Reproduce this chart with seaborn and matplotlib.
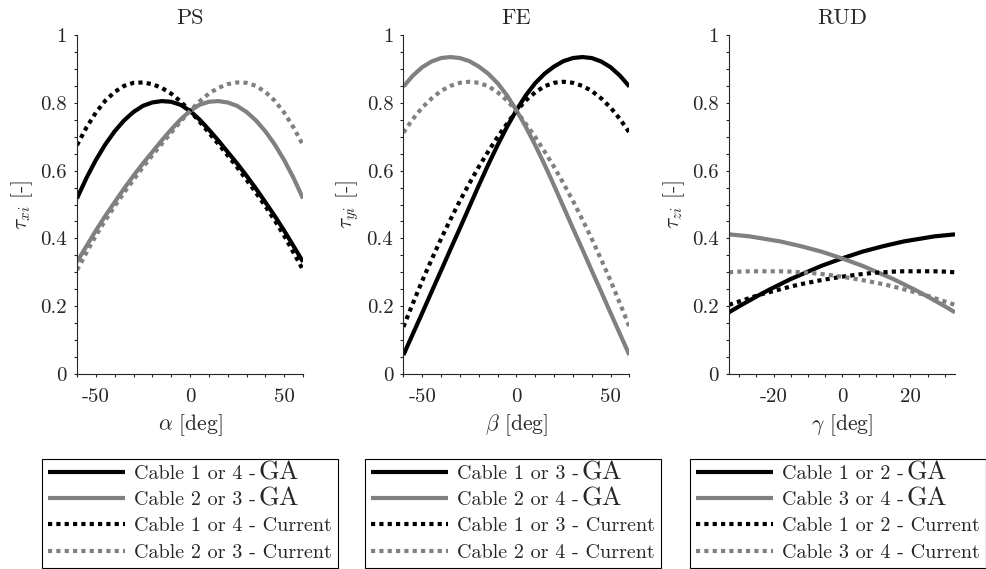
import numpy as np
import matplotlib
matplotlib.use("Agg")
import matplotlib.pyplot as plt
import seaborn as sns

# sampled angles [deg]
x_ps = [-60, -55, -50, -45, -40, -35, -30, -25, -20, -15, -10, -5, 0,
        5, 10, 15, 20, 25, 30, 35, 40, 45, 50, 55, 60]
x_fe = x_ps
x_rud = [-33, -30, -27, -24, -21, -18, -15, -12, -9, -6, -3, 0,
         3, 6, 9, 12, 15, 18, 21, 24, 27, 30, 33]

# PS
ps_ga_a = [0.518, 0.578, 0.631, 0.677, 0.716, 0.748, 0.773, 0.791, 0.801, 0.805, 0.803, 0.794, 0.776,
           0.751, 0.721, 0.689, 0.655, 0.621, 0.585, 0.547, 0.507, 0.466, 0.423, 0.377, 0.331]
ps_ga_b = [0.331, 0.377, 0.423, 0.466, 0.507, 0.547, 0.585, 0.621, 0.655, 0.689, 0.721, 0.751, 0.776,
           0.794, 0.803, 0.805, 0.801, 0.791, 0.773, 0.748, 0.716, 0.677, 0.631, 0.578, 0.518]
ps_cur_a = [0.675, 0.727, 0.771, 0.806, 0.832, 0.850, 0.859, 0.860, 0.855, 0.844, 0.827, 0.804, 0.776,
            0.745, 0.712, 0.679, 0.645, 0.610, 0.573, 0.535, 0.495, 0.453, 0.408, 0.358, 0.307]
ps_cur_b = [0.307, 0.358, 0.408, 0.453, 0.495, 0.535, 0.573, 0.610, 0.645, 0.679, 0.712, 0.745, 0.776,
            0.804, 0.827, 0.844, 0.855, 0.860, 0.859, 0.850, 0.832, 0.806, 0.771, 0.727, 0.675]

# FE
fe_ga_a = [0.056, 0.118, 0.180, 0.243, 0.305, 0.368, 0.430, 0.493, 0.556, 0.617, 0.675, 0.729, 0.778,
           0.822, 0.858, 0.886, 0.907, 0.923, 0.932, 0.935, 0.932, 0.922, 0.905, 0.880, 0.848]
fe_ga_b = [0.848, 0.880, 0.905, 0.922, 0.932, 0.935, 0.932, 0.923, 0.907, 0.886, 0.858, 0.822, 0.778,
           0.729, 0.675, 0.617, 0.556, 0.493, 0.430, 0.368, 0.305, 0.243, 0.180, 0.118, 0.056]
fe_cur_a = [0.139, 0.208, 0.275, 0.338, 0.399, 0.456, 0.511, 0.562, 0.611, 0.656, 0.699, 0.738, 0.776,
            0.807, 0.831, 0.849, 0.859, 0.862, 0.859, 0.850, 0.835, 0.813, 0.786, 0.752, 0.712]
fe_cur_b = [0.712, 0.752, 0.786, 0.813, 0.835, 0.850, 0.859, 0.862, 0.859, 0.849, 0.831, 0.807, 0.776,
            0.738, 0.699, 0.656, 0.611, 0.562, 0.511, 0.456, 0.399, 0.338, 0.275, 0.208, 0.139]

# RUD
rud_ga_a = [0.182, 0.200, 0.217, 0.234, 0.250, 0.265, 0.280, 0.293, 0.306, 0.319, 0.330, 0.341,
            0.351, 0.361, 0.369, 0.377, 0.384, 0.391, 0.396, 0.401, 0.406, 0.409, 0.412]
rud_ga_b = [0.412, 0.409, 0.406, 0.401, 0.396, 0.391, 0.384, 0.377, 0.369, 0.361, 0.351, 0.341,
            0.330, 0.319, 0.306, 0.293, 0.280, 0.265, 0.250, 0.234, 0.217, 0.200, 0.182]
rud_cur_a = [0.204, 0.214, 0.224, 0.234, 0.242, 0.250, 0.258, 0.265, 0.271, 0.277, 0.282, 0.287,
             0.291, 0.295, 0.298, 0.300, 0.302, 0.303, 0.303, 0.303, 0.303, 0.302, 0.300]
rud_cur_b = [0.300, 0.302, 0.303, 0.303, 0.303, 0.303, 0.302, 0.300, 0.298, 0.295, 0.291, 0.287,
             0.282, 0.277, 0.271, 0.265, 0.258, 0.250, 0.242, 0.234, 0.224, 0.214, 0.204]

titles = ["PS", "FE", "RUD"]
xlabels = [r"$\alpha$ [deg]", r"$\beta$ [deg]", r"$\gamma$ [deg]"]
ylabels = [r"$\tau_{xi}$ [-]", r"$\tau_{yi}$ [-]", r"$\tau_{zi}$ [-]"]
pairs = [("1 or 4", "2 or 3"), ("1 or 3", "2 or 4"), ("1 or 2", "3 or 4")]

sns.set_style("ticks")
plt.rcParams["font.family"] = "serif"
plt.rcParams["font.serif"] = ["cmr10", "DejaVu Serif"]
plt.rcParams["mathtext.fontset"] = "cm"
plt.rcParams["axes.formatter.use_mathtext"] = True

gray = "#808080"
dot = (0, (1, 1))

fig = plt.figure(figsize=(9.87, 5.69), dpi=100)
W, H = 987, 569
lefts = [77, 403.4, 729]
axes = [fig.add_axes([l / W, 1 - 374 / H, 226 / W, 339 / H]) for l in lefts]

panels = [
    (x_ps, ps_ga_a, ps_ga_b, ps_cur_a, ps_cur_b, (-60, 60), [-50, 0, 50], 10),
    (x_fe, fe_ga_a, fe_ga_b, fe_cur_a, fe_cur_b, (-60, 60), [-50, 0, 50], 10),
    (x_rud, rud_ga_a, rud_ga_b, rud_cur_a, rud_cur_b, (-33, 33), [-20, 0, 20], 5),
]

for i, (ax, p) in enumerate(zip(axes, panels)):
    xs, ga_a, ga_b, cur_a, cur_b, xlim, xt, minor = p
    sns.lineplot(x=xs, y=ga_a, ax=ax, color="black", linewidth=3)
    sns.lineplot(x=xs, y=ga_b, ax=ax, color=gray, linewidth=3)
    sns.lineplot(x=xs, y=cur_a, ax=ax, color="black", linewidth=3, linestyle=dot)
    sns.lineplot(x=xs, y=cur_b, ax=ax, color=gray, linewidth=3, linestyle=dot)
    for ln in ax.get_lines():
        ln.set_dash_capstyle("butt")
        ln.set_solid_capstyle("butt")

    ax.set_xlim(*xlim)
    ax.set_ylim(0, 1)
    ax.set_xticks(xt)
    ax.set_xticklabels([str(v) for v in xt])
    ax.set_xticks(np.arange(-60, 61, minor), minor=True)
    ax.set_yticks([0, 0.2, 0.4, 0.6, 0.8, 1])
    ax.set_yticklabels(["0", "0.2", "0.4", "0.6", "0.8", "1"])
    ax.set_yticks(np.arange(0, 1.001, 0.05), minor=True)
    ax.set_xlim(*xlim)
    ax.tick_params(which="both", direction="out", length=2.3, width=0.8,
                   labelsize=15)
    ax.tick_params(axis="y", pad=5)
    ax.tick_params(axis="x", pad=8)
    sns.despine(ax=ax)
    for s in ["left", "bottom"]:
        ax.spines[s].set_linewidth(0.8)
    ax.set_title(titles[i], fontsize=16, pad=8)
    ax.set_xlabel(xlabels[i], fontsize=15.5, labelpad=4)
    ax.set_ylabel(ylabels[i], fontsize=15.5, labelpad=4)

# legends under each panel
centers = [190, 513, 838]
for i, ax in enumerate(axes):
    a, b = pairs[i]
    labels = [f"Cable {a} -", f"Cable {b} -",
              f"Cable {a} - Current", f"Cable {b} - Current"]
    leg = fig.legend(ax.get_lines(), labels, loc="upper center",
                     bbox_to_anchor=(centers[i] / W, 1 - 459 / H),
                     bbox_transform=fig.transFigure, fontsize=14.5,
                     frameon=True, fancybox=False, edgecolor="black",
                     framealpha=1, borderaxespad=0, handlelength=3.8,
                     handletextpad=0.45, borderpad=0.3, labelspacing=0.4)
    leg.get_frame().set_linewidth(0.8)

# the "GA" part is set in a larger font, as in the original
fig.canvas.draw()
renderer = fig.canvas.get_renderer()
for leg in list(fig.legends):
    for t in leg.get_texts()[:2]:
        bb = t.get_window_extent(renderer)
        _, yb = t.get_transform().transform(t.get_position())
        fig.text((bb.x1 + 3) / W, yb / H, "GA", fontsize=19,
                 va="baseline", ha="left", zorder=10)

fig.savefig("out.png", dpi=100)
